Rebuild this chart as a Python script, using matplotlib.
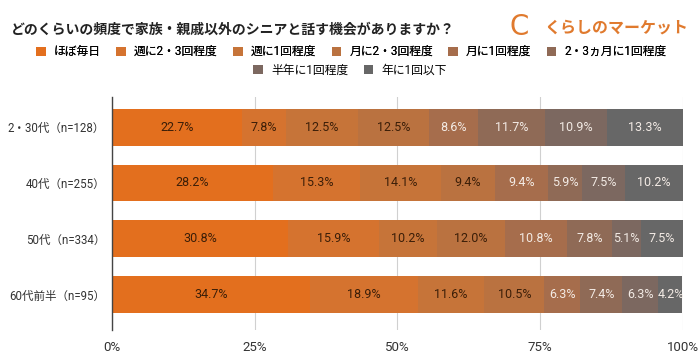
import numpy as np
import matplotlib.pyplot as plt
from matplotlib.font_manager import FontProperties

plt.rcParams['font.family'] = ['Noto Sans CJK JP', 'DejaVu Sans']
mixed = ['Roboto', 'Noto Sans CJK JP']

# データ
groups = ['2・30代（n=128）', '40代（n=255）', '50代（n=334）', '60代前半（n=95）']
categories = ['ほぼ毎日', '週に2・3回程度', '週に1回程度', '月に2・3回程度',
              '月に1回程度', '2・3ヵ月に1回程度', '半年に1回程度', '年に1回以下']
values = {
    'ほぼ毎日': [22.7, 28.2, 30.8, 34.7],
    '週に2・3回程度': [7.8, 15.3, 15.9, 18.9],
    '週に1回程度': [12.5, 14.1, 10.2, 11.6],
    '月に2・3回程度': [12.5, 9.4, 12.0, 10.5],
    '月に1回程度': [8.6, 9.4, 10.8, 6.3],
    '2・3ヵ月に1回程度': [11.7, 5.9, 7.8, 7.4],
    '半年に1回程度': [10.9, 7.5, 5.1, 6.3],
    '年に1回以下': [13.3, 10.2, 7.5, 4.2],
}
colors = ['#E36F1E', '#D5732F', '#C67439', '#BA7240',
          '#A66D4C', '#8F6A56', '#7C6860', '#676767']
xticks = [0, 25, 50, 75, 100]

fig = plt.figure(figsize=(7, 3.62), dpi=100)
ax = fig.add_axes([0.16, 0.088, 0.8157, 0.644])

y = np.arange(len(groups))
left = np.zeros(len(groups))
for i, cat in enumerate(categories):
    vals = np.array(values[cat])
    ax.barh(y, vals, left=left, height=0.66, color=colors[i], label=cat, zorder=3)
    txt_color = '#3B1E08' if i < 4 else '#F3EBE5'
    for j, v in enumerate(vals):
        ax.text(left[j] + v / 2, y[j], f'{v:.1f}%', ha='center', va='center',
                fontsize=9, color=txt_color, zorder=4, family=mixed)
    left += vals

ax.set_xlim(0, 100)
ax.set_ylim(3.64, -0.54)
ax.set_yticks(y)
ax.set_yticklabels(groups, fontsize=8.3, color='#333333', family=mixed)
ax.set_xticks(xticks)
ax.set_xticklabels([f'{t}%' for t in xticks], fontsize=9.5, color='#333333', family=mixed)
ax.tick_params(axis='y', length=0, pad=5)
ax.tick_params(axis='x', length=0, pad=8)
ax.grid(axis='x', color='#D0D0D0', linewidth=0.8, zorder=0)
for s in ['top', 'right', 'bottom']:
    ax.spines[s].set_visible(False)
ax.spines['left'].set_color('#444444')
ax.spines['left'].set_linewidth(1.0)
ax.spines['left'].set_zorder(5)

# タイトル
fig.text(0.015, 0.917, 'どのくらいの頻度で家族・親戚以外のシニアと話す機会がありますか？',
         fontsize=10, fontweight='bold', color='#222222', va='center')
# ロゴ
fig.text(0.728, 0.925, 'C', fontsize=20, color='#E07A2E', va='center', family='DejaVu Sans')
fig.text(0.778, 0.925, 'くらしのマーケット', fontsize=11.5, color='#E07A2E',
         va='center', fontweight='bold')

# 凡例
leg_font = FontProperties(family=mixed, size=8.5)
handles, labels = ax.get_legend_handles_labels()
leg1 = fig.legend(handles[:6], labels[:6], loc='center', bbox_to_anchor=(0.502, 0.857),
                  ncol=6, frameon=False, prop=leg_font, handlelength=0.8, handleheight=0.8,
                  columnspacing=1.3, handletextpad=0.7)
fig.add_artist(leg1)
fig.legend(handles[6:], labels[6:], loc='center', bbox_to_anchor=(0.5, 0.806),
           ncol=2, frameon=False, prop=leg_font, handlelength=0.8, handleheight=0.8,
           columnspacing=1.3, handletextpad=0.7)

fig.savefig('out.png', dpi=100)
